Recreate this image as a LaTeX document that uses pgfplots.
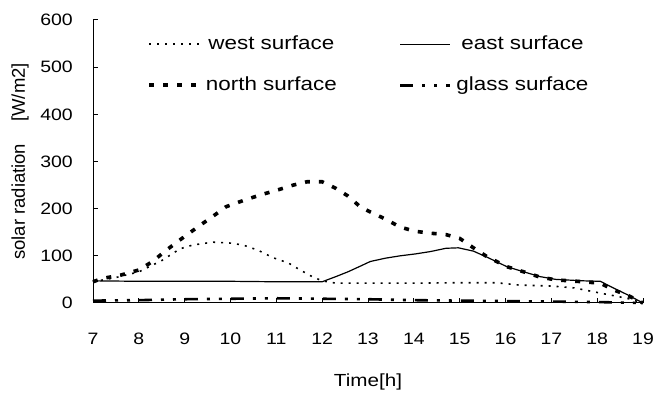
\documentclass[border=0pt]{standalone}
\usepackage{fontspec}
\setmainfont{Liberation Sans}[FakeStretch=1.18]
\newfontfamily\ylfont{Liberation Sans}
\usepackage{pgfplots}
\pgfplotsset{compat=1.18}
\begin{document}
\begin{tikzpicture}
\begin{axis}[
  at={(93bp,92bp)}, anchor=south west,
  scale only axis, width=550bp, height=283bp,
  xmin=7, xmax=19, ymin=0, ymax=600,
  xtick={7,8,...,19}, ytick={0,100,...,600},
  axis x line=bottom, axis y line=left,
  axis line style={-, line width=1bp, black},
  tick align=inside, major tick length=5bp,
  tick style={line width=1bp, black},
  clip=false,
  /pgf/number format/assume math mode=true,
  tick label style={font=\fontsize{16.5bp}{18bp}\selectfont, inner sep=0pt},
  xticklabel style={anchor=base, yshift=-41bp},
  yticklabel style={anchor=east, xshift=-20bp},
  xlabel={Time[h]},
  xlabel style={at={(axis description cs:0.5,0)}, anchor=base, yshift=-83bp, font=\fontsize{17.5bp}{19bp}\selectfont, inner sep=0pt},
  ylabel={solar radiation\hspace{22bp}[W/m2]},
  ylabel style={at={(axis description cs:-0.1327,0.5)}, anchor=center, rotate=0, font=\ylfont\fontsize{18.5bp}{20bp}\selectfont, inner sep=0pt},
  legend columns=2,
  legend image code/.code={\draw[#1] (0bp,0bp) -- (50bp,0bp);},
  legend style={draw=none, fill=none, at={(axis description cs:0.093,0.954)}, anchor=north west,
    font=\fontsize{19bp}{21bp}\selectfont,
    nodes={inner sep=0pt, text height=14bp, text depth=4bp},
    row sep=23bp,
    /tikz/every odd column/.append style={column sep=5bp},
    /tikz/every even column/.append style={column sep=62bp}},
]
% west
\addplot[black, line width=1.6bp, dash pattern=on 2bp off 6bp] coordinates {
(7,45) (7.5,54) (8,66) (8.5,90) (8.9,115) (9.18,123) (9.62,129) (10,127) (10.27,123)
(10.6,112) (10.93,96) (11.26,85) (11.52,70) (11.78,56) (12,47) (12.3,42) (13,42)
(14,42) (15,43) (15.8,43) (16.3,38) (17,36) (17.5,32) (18.07,21) (18.65,10) (19,0)};
\addlegendentry{west surface}
% east
\addplot[black, line width=1.2bp] coordinates {
(7,47) (8,46) (9,46) (10,46) (11,45) (12,45) (12.3,56) (12.56,66) (12.83,78) (13.05,88)
(13.38,95) (13.7,100) (14.03,104) (14.36,109) (14.7,116) (14.97,117) (15.3,110)
(15.6,97) (16.03,77) (16.4,66) (16.75,56) (17.1,50) (17.7,47) (18.07,46) (18.35,32)
(18.65,18) (19,0)};
\addlegendentry{east surface}
% north
\addplot[black, line width=3.6bp, dash pattern=on 5bp off 9bp] coordinates {
(7,45) (7.2,52) (7.6,59) (8,70) (8.3,88) (8.6,112) (8.9,134) (9.34,165) (9.62,184)
(9.9,204) (10.3,218) (10.65,229) (11.04,240) (11.37,250) (11.67,257) (12,257)
(12.3,243) (12.56,227) (12.83,204) (13.05,193) (13.38,178) (13.7,161) (14.03,152)
(14.36,148) (14.7,145) (15,137) (15.3,117) (15.6,98) (16.03,77) (16.4,66) (16.75,55)
(17.1,49) (17.7,45) (18.07,42) (18.35,28) (18.65,17) (19,0)};
\addlegendentry{north surface}
% glass
\addplot[black, line width=2.6bp, dash pattern=on 13bp off 9bp on 3bp off 9bp on 3bp off 9bp] coordinates {
(7,5) (8,6) (9,8) (10,9) (11,10) (12,9) (13,8) (14,6) (15,5) (16,4) (17,3) (18,2) (19,0)};
\addlegendentry{glass surface}
\end{axis}
\pgfresetboundingbox
\useasboundingbox (0,0) rectangle (656bp,395bp);
\end{tikzpicture}
\end{document}
